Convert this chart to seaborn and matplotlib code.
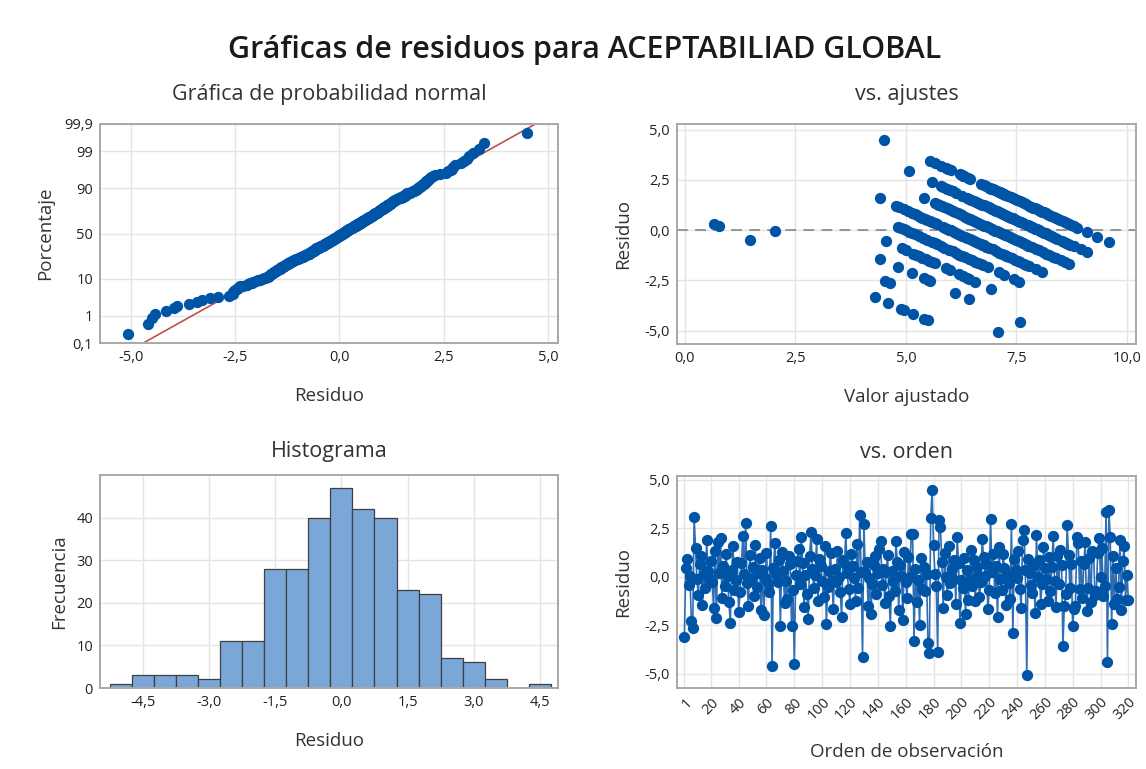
import numpy as np
import pandas as pd
import seaborn as sns
import matplotlib
matplotlib.use("Agg")
import matplotlib.pyplot as plt
from matplotlib.ticker import FuncFormatter, FixedLocator
from statistics import NormalDist

# ---------------- data ----------------
titulo = "Gráficas de residuos para ACEPTABILIAD GLOBAL"
subtitulos = ["Gráfica de probabilidad normal", "vs. ajustes", "Histograma", "vs. orden"]

# residuals in observation order (320 observations)
residuo = [
    -3.10, 0.46, 0.92, -0.42, 0.04, -2.30, -2.64, 3.10, 1.48, -0.14,
    -0.93, 0.63, 1.05, -1.46, 0.16, -0.60, 1.88, 0.28, -0.07, 0.83,
    -0.28, -1.63, 1.32, -2.15, 1.80, 0.20, 2.00, -1.11, 0.57, -0.48,
    1.15, 0.02, -1.30, -2.40, 0.35, 1.58, -0.67, -0.18, 0.76, -1.82,
    -0.79, 0.72, 2.10, 0.13, 2.78, -0.35, -1.50, 1.13, -0.12, 0.50,
    -1.00, 1.63, -0.54, 0.19, 0.98, -1.72, 0.34, -2.00, -0.05, 1.22,
    -0.33, -0.80, 2.60, -4.59, 0.47, 1.76, 0.12, -0.27, 0.85, -2.55,
    1.27, 0.31, -1.34, -0.24, -1.17, 1.08, 0.67, -2.52, -0.70, -4.49,
    0.10, 0.80, 1.43, -0.39, 2.07, 0.71, -1.58, 0.07, -0.88, -2.20,
    1.04, 2.30, 0.40, -0.58, 0.11, 1.93, -1.27, 0.93, 0.56, -0.23,
    -1.06, 1.57, -2.42, -0.52, 0.27, 1.24, -0.21, -1.68, 0.42, -0.26,
    1.34, -0.01, -0.77, -2.10, 0.88, 0.68, 2.24, 0.17, -0.64, -1.42,
    1.18, 0.55, -0.06, -1.23, 1.70, -0.56, 3.20, 0.22, -4.16, 2.70,
    0.26, 0.78, -1.53, -0.08, -1.90, -0.37, 0.62, 1.05, -0.91, 0.20,
    1.42, 1.85, -0.45, 0.39, -1.36, 0.23, 1.12, -0.98, -2.56, 0.29,
    -0.22, -0.73, 1.83, 0.77, -1.74, 0.61, 0.05, -2.22, 1.28, -0.29,
    -1.09, 1.03, 0.00, 2.20, 2.18, -3.30, 0.37, -1.32, -0.19, -2.50,
    0.96, -0.62, 0.51, -0.76, 0.12, -3.42, -3.96, 3.05, 4.49, 1.62,
    0.14, -0.50, -3.90, 2.92, 2.55, 0.74, -1.59, 1.23, -0.02, -0.95,
    1.59, -0.34, 0.41, -0.13, 0.88, -1.41, 2.03, 0.73, -2.38, -0.15,
    -0.59, 0.95, -1.95, 0.33, -1.21, -0.16, 1.38, -0.47, 0.84, -1.26,
    0.52, 0.06, -1.03, -0.30, 1.95, 1.01, 0.03, 0.66, -1.66, -0.69,
    2.98, 0.24, 1.18, -0.85, 0.54, -2.08, 1.52, -0.10, -0.71, 1.17,
    0.43, -1.45, 0.15, -0.32, -1.16, 2.72, -2.92, 0.89, 0.36, -0.09,
    1.30, -0.65, -1.60, 1.87, 2.40, 0.32, -5.08, 0.93, 0.18, -0.44,
    -0.82, 0.59, -1.85, 2.15, -0.04, 0.86, -1.39, -0.38, 1.53, 0.45,
    -0.10, -1.24, 1.00, -0.72, 0.51, 2.12, -0.20, -1.56, 1.09, -0.40,
    1.37, 0.58, -3.60, -1.49, -0.87, 2.68, 1.13, -0.59, 0.67, -2.56,
    -1.65, -1.52, 2.07, 1.72, -0.66, 0.80, -1.10, 0.63, 1.78, -1.78,
    -0.57, 0.97, -1.33, 1.33, 1.26, -0.96, -0.74, 1.22, 1.98, 0.00,
    1.47, -1.01, -0.49, 3.35, -4.42, 3.46, 2.05, -2.45, 1.08, -1.40,
    0.46, -1.14, -0.55, 1.90, -1.70, 0.81, 1.58, -1.22, 0.08, -1.18,
]

# observed ACEPTABILIDAD GLOBAL scores (integer scale) in the same order
observado = [
    3, 9, 9, 8, 8, 4, 2, 9, 9, 7,
    7, 8, 8, 6, 6, 7, 9, 7, 5, 7,
    6, 5, 8, 3, 9, 8, 8, 6, 6, 5,
    6, 7, 4, 3, 8, 7, 8, 6, 9, 3,
    5, 9, 9, 9, 9, 7, 7, 8, 8, 7,
    4, 9, 6, 7, 7, 6, 6, 4, 2, 9,
    9, 8, 9, 3, 8, 9, 5, 8, 8, 3,
    8, 9, 5, 8, 7, 7, 7, 2, 7, 1,
    7, 6, 9, 6, 9, 8, 4, 6, 6, 4,
    9, 9, 6, 5, 8, 8, 6, 8, 9, 7,
    5, 8, 4, 8, 8, 7, 5, 7, 7, 7,
    7, 6, 7, 5, 9, 6, 9, 8, 6, 5,
    8, 8, 7, 6, 9, 4, 9, 1, 1, 9,
    9, 7, 6, 8, 4, 8, 7, 6, 4, 9,
    8, 9, 7, 8, 4, 7, 9, 5, 4, 6,
    6, 6, 9, 8, 5, 9, 5, 5, 9, 5,
    7, 7, 8, 8, 9, 1, 7, 7, 7, 3,
    9, 8, 8, 6, 6, 3, 1, 9, 9, 8,
    8, 7, 1, 8, 9, 6, 6, 8, 7, 8,
    6, 6, 9, 6, 7, 3, 9, 7, 4, 5,
    9, 6, 6, 1, 5, 8, 9, 1, 9, 5,
    6, 7, 6, 7, 9, 8, 6, 9, 6, 6,
    9, 8, 7, 7, 7, 6, 8, 9, 5, 9,
    8, 4, 7, 8, 4, 9, 4, 8, 9, 6,
    7, 7, 7, 8, 8, 7, 2, 7, 5, 6,
    6, 8, 5, 8, 8, 6, 6, 5, 9, 6,
    7, 7, 9, 8, 9, 9, 8, 5, 8, 7,
    8, 7, 1, 5, 5, 9, 7, 6, 8, 5,
    4, 4, 8, 8, 5, 9, 8, 6, 9, 6,
    8, 8, 6, 9, 7, 6, 7, 6, 9, 5,
    8, 7, 6, 9, 1, 9, 9, 5, 9, 7,
    7, 5, 7, 9, 5, 8, 9, 4, 8, 6,
]

pct_ticks = [0.1, 1, 10, 50, 90, 99, 99.9]
pct_labels = ["0,1", "1", "10", "50", "90", "99", "99,9"]
res_ticks_prob = [-5.0, -2.5, 0.0, 2.5, 5.0]
fit_ticks = [0.0, 2.5, 5.0, 7.5, 10.0]
res_ticks = [-5.0, -2.5, 0.0, 2.5, 5.0]
hist_xticks = [-4.5, -3.0, -1.5, 0.0, 1.5, 3.0, 4.5]
hist_yticks = [0, 10, 20, 30, 40]
orden_ticks = [1, 20, 40, 60, 80, 100, 120, 140, 160, 180, 200, 220,
               240, 260, 280, 300, 320]

# ---------------- derived tables ----------------
res = np.array(residuo)
obs = np.array(observado)
n = len(res)
df = pd.DataFrame({"orden": np.arange(1, n + 1), "residuo": res,
                   "ajuste": obs - res})

nd = NormalDist()
res_sorted = np.sort(res)
zq = np.array([nd.inv_cdf((i - 0.3) / (n + 0.4)) for i in range(1, n + 1)])
prob_df = pd.DataFrame({"residuo": res_sorted, "z": zq})
mu, sd = res.mean(), res.std(ddof=1)
zlim = (nd.inv_cdf(0.001), nd.inv_cdf(0.999))
zl = np.array([zlim[0] - 0.3, zlim[1] + 0.3])
line_df = pd.DataFrame({"residuo": mu + sd * zl, "z": zl})

# ---------------- style ----------------
sns.set_theme(style="whitegrid")
plt.rcParams["font.family"] = ["Open Sans", "DejaVu Sans"]

AZUL = "#0054A6"
AZUL_LINEA = "#2F6DB5"
ROJO = "#C0504D"
BARRA = "#7BA6D8"
GRID = "#E4E4E4"
SPINE = "#A8A8A8"
TXT = "#333333"
MS = 66

W, H = 1146, 769
fig = plt.figure(figsize=(W / 100, H / 100), dpi=100)
fig.patch.set_facecolor("white")


def add_ax(l, t, r, b):
    return fig.add_axes([l / W, 1 - b / H, (r - l) / W, (b - t) / H])


ax1 = add_ax(100, 124, 558, 343)
ax2 = add_ax(677, 124, 1136, 344)
ax3 = add_ax(100, 475, 558, 688)
ax4 = add_ax(677, 476, 1136, 688)

coma = FuncFormatter(lambda v, p: f"{v:.1f}".replace(".", ","))


def estilo(ax):
    ax.set_facecolor("white")
    ax.grid(True, color=GRID, linewidth=1.0)
    ax.set_axisbelow(True)
    for s in ax.spines.values():
        s.set_visible(True)
        s.set_color(SPINE)
        s.set_linewidth(1.4)
    ax.tick_params(axis="both", which="major", length=3, width=1, color=SPINE,
                   labelsize=10.5, labelcolor="#222222", pad=2, direction="out")


LAB = 13.5
TIT = 15.5

# --- normal probability plot ---
estilo(ax1)
sns.lineplot(data=line_df, x="residuo", y="z", ax=ax1, color=ROJO,
             linewidth=1.2, sort=False)
sns.scatterplot(data=prob_df, x="residuo", y="z", ax=ax1, color=AZUL, s=MS,
                linewidth=0, zorder=3)
ax1.set_xlim(-5.74, 5.24)
ax1.set_ylim(*zlim)
ax1.yaxis.set_major_locator(FixedLocator([nd.inv_cdf(p / 100) for p in pct_ticks]))
ax1.set_yticklabels(pct_labels)
ax1.xaxis.set_major_locator(FixedLocator(res_ticks_prob))
ax1.xaxis.set_major_formatter(coma)
ax1.set_xlabel("Residuo", fontsize=LAB, color=TXT, labelpad=16)
ax1.set_ylabel("Porcentaje", fontsize=LAB, color=TXT, labelpad=7)
ax1.set_title(subtitulos[0], fontsize=TIT, color=TXT, pad=17)

# --- vs fits ---
estilo(ax2)
ax2.axhline(0, color="#8F8F8F", linewidth=1.3, linestyle=(0, (6, 4)), zorder=1)
sns.scatterplot(data=df, x="ajuste", y="residuo", ax=ax2, color=AZUL, s=MS,
                linewidth=0, zorder=3)
ax2.set_xlim(-0.17, 10.2)
ax2.set_ylim(-5.66, 5.28)
ax2.xaxis.set_major_locator(FixedLocator(fit_ticks))
ax2.yaxis.set_major_locator(FixedLocator(res_ticks))
ax2.xaxis.set_major_formatter(coma)
ax2.yaxis.set_major_formatter(coma)
ax2.set_xlabel("Valor ajustado", fontsize=LAB, color=TXT, labelpad=16)
ax2.set_ylabel("Residuo", fontsize=LAB, color=TXT, labelpad=9)
ax2.set_title(subtitulos[1], fontsize=TIT, color=TXT, pad=17)

# --- histogram ---
estilo(ax3)
bins = np.arange(-5.25, 4.76, 0.5)
sns.histplot(data=df, x="residuo", bins=bins, ax=ax3, color=BARRA,
             edgecolor="#3F3F3F", linewidth=0.9, alpha=1.0, zorder=2)
ax3.set_xlim(-5.47, 4.91)
ax3.set_ylim(0, 50)
ax3.xaxis.set_major_locator(FixedLocator(hist_xticks))
ax3.yaxis.set_major_locator(FixedLocator(hist_yticks))
ax3.xaxis.set_major_formatter(coma)
ax3.set_xlabel("Residuo", fontsize=LAB, color=TXT, labelpad=16)
ax3.set_ylabel("Frecuencia", fontsize=LAB, color=TXT, labelpad=6)
ax3.set_title(subtitulos[2], fontsize=TIT, color=TXT, pad=13)

# --- vs order ---
estilo(ax4)
sns.lineplot(data=df, x="orden", y="residuo", ax=ax4, color=AZUL_LINEA,
             linewidth=1.2, zorder=2)
sns.scatterplot(data=df, x="orden", y="residuo", ax=ax4, color=AZUL, s=MS,
                linewidth=0, zorder=3)
ax4.set_xlim(-4.3, 325.5)
ax4.set_ylim(-5.74, 5.19)
ax4.xaxis.set_major_locator(FixedLocator(orden_ticks))
ax4.yaxis.set_major_locator(FixedLocator(res_ticks))
ax4.yaxis.set_major_formatter(coma)
for lab in ax4.get_xticklabels():
    lab.set_rotation(45)
    lab.set_ha("right")
    lab.set_rotation_mode("anchor")
ax4.set_xlabel("Orden de observación", fontsize=LAB, color=TXT, labelpad=14)
ax4.set_ylabel("Residuo", fontsize=LAB, color=TXT, labelpad=9)
ax4.set_title(subtitulos[3], fontsize=TIT, color=TXT, pad=13)

fig.text(585 / W, 1 - 50 / H, titulo, ha="center", va="center", fontsize=22,
         fontweight="semibold", color="#1A1A1A")

fig.savefig("out.png", dpi=100, facecolor="white")
